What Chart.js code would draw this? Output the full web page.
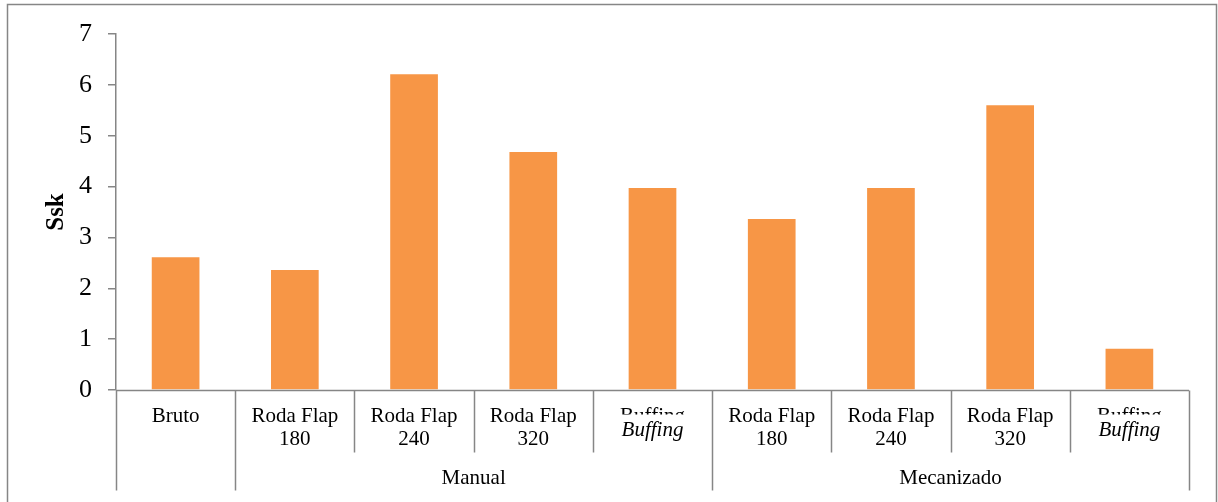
<!DOCTYPE html>
<html>
<head>
<meta charset="utf-8">
<script src="https://cdn.jsdelivr.net/npm/chart.js@4"></script>
<style>
  html, body { margin: 0; padding: 0; background: #fff; }
  #wrap { width: 1218px; height: 502px; position: relative; }
</style>
</head>
<body>
<div id="wrap"><canvas id="sskChart"></canvas></div>
<script>
// Ssk per surface finish
const categories = ["Bruto", "Roda Flap 180", "Roda Flap 240", "Roda Flap 320", "Buffing",
                    "Roda Flap 180", "Roda Flap 240", "Roda Flap 320", "Buffing"];
const catLines = [["Bruto"], ["Roda Flap", "180"], ["Roda Flap", "240"], ["Roda Flap", "320"], ["Buffing"],
                  ["Roda Flap", "180"], ["Roda Flap", "240"], ["Roda Flap", "320"], ["Buffing"]];
const sskValues = [2.61, 2.36, 6.21, 4.68, 3.97, 3.36, 3.97, 5.60, 0.81];
const groupNames = ["Manual", "Mecanizado"];
const groupFirst = [1, 5];
const groupLast = [4, 8];
const yMin = 0, yMax = 7, yStep = 1;

const AXIS_GREY = "#868686";
const SERIF = "'Liberation Serif', 'Times New Roman', serif";

// multi-level category axis + outer frame
const categoryAxis = {
    id: "categoryAxis",
    beforeDraw(chart) {
        const ctx = chart.ctx;
        ctx.save();
        ctx.strokeStyle = AXIS_GREY;
        ctx.lineWidth = 1.5;
        ctx.strokeRect(7.5, 4.5, 1209, 520);
        ctx.restore();
    },
    afterDraw(chart) {
        const ctx = chart.ctx;
        const x = chart.scales.x;
        const area = chart.chartArea;
        const step = x.width / categories.length;
        const y0 = Math.round(area.bottom) + 0.5;
        const innerEnd = y0 + 62;
        const outerEnd = y0 + 100;

        ctx.save();
        ctx.strokeStyle = AXIS_GREY;
        ctx.lineWidth = 1.5;

        ctx.beginPath();
        ctx.moveTo(area.left, y0);
        ctx.lineTo(area.right, y0);
        ctx.stroke();

        // dividers between categories; group edges run longer
        const outerEdges = [0, groupFirst[0]].concat(groupLast.map(i => i + 1));
        for (let i = 0; i <= categories.length; i++) {
            const px = Math.round(x.left + i * step) + 0.5;
            ctx.beginPath();
            ctx.moveTo(px, y0);
            ctx.lineTo(px, outerEdges.includes(i) ? outerEnd : innerEnd);
            ctx.stroke();
        }

        const labelFont = "21px " + SERIF;
        ctx.fillStyle = "#000";
        ctx.textAlign = "center";
        ctx.textBaseline = "middle";
        catLines.forEach((lines, i) => {
            const cx = x.getPixelForValue(i);
            if (lines[0] === "Buffing") {
                // upright label is cut off, italic copy sits below it
                ctx.save();
                ctx.beginPath();
                ctx.rect(cx - step / 2, y0, step, 24);
                ctx.clip();
                ctx.font = labelFont;
                ctx.fillText("Buffing", cx, y0 + 26);
                ctx.restore();
                ctx.font = "italic " + labelFont;
                ctx.fillText("Buffing", cx, y0 + 40);
            } else {
                ctx.font = labelFont;
                lines.forEach((t, j) => ctx.fillText(t, cx, y0 + 26 + j * 23));
            }
        });

        ctx.font = labelFont;
        groupNames.forEach((g, k) => {
            const a = x.left + groupFirst[k] * step;
            const b = x.left + (groupLast[k] + 1) * step;
            ctx.fillText(g, (a + b) / 2, y0 + 88);
        });
        ctx.restore();
    }
};

const ctx = document.getElementById("sskChart").getContext("2d");

new Chart(ctx, {
    type: "bar",
    data: {
        labels: categories,
        datasets: [{
            label: "Ssk",
            data: sskValues,
            backgroundColor: "#F79646",
            borderWidth: 0,
            categoryPercentage: 1,
            barPercentage: 0.4
        }]
    },
    options: {
        responsive: true,
        maintainAspectRatio: false,
        animation: false,
        layout: { padding: { top: 34, right: 29, left: 0, bottom: 0 } },
        plugins: {
            legend: { display: false },
            tooltip: { enabled: false }
        },
        scales: {
            x: {
                ticks: { display: false },
                grid: { display: false },
                border: { display: false },
                afterFit(scale) { scale.height = 112; }
            },
            y: {
                min: yMin,
                max: yMax,
                ticks: {
                    stepSize: yStep,
                    color: "#000",
                    padding: 16,
                    font: { family: SERIF, size: 26 }
                },
                grid: {
                    drawOnChartArea: false,
                    tickLength: 8,
                    color: AXIS_GREY,
                    lineWidth: 1.5
                },
                border: { color: AXIS_GREY, width: 1.5 },
                title: {
                    display: true,
                    text: "Ssk",
                    color: "#000",
                    font: { family: SERIF, size: 25, weight: "bold" },
                    padding: { top: 42, bottom: 0 }
                },
                afterFit(scale) { scale.width = 116; }
            }
        }
    },
    plugins: [categoryAxis]
});
</script>
</body>
</html>
